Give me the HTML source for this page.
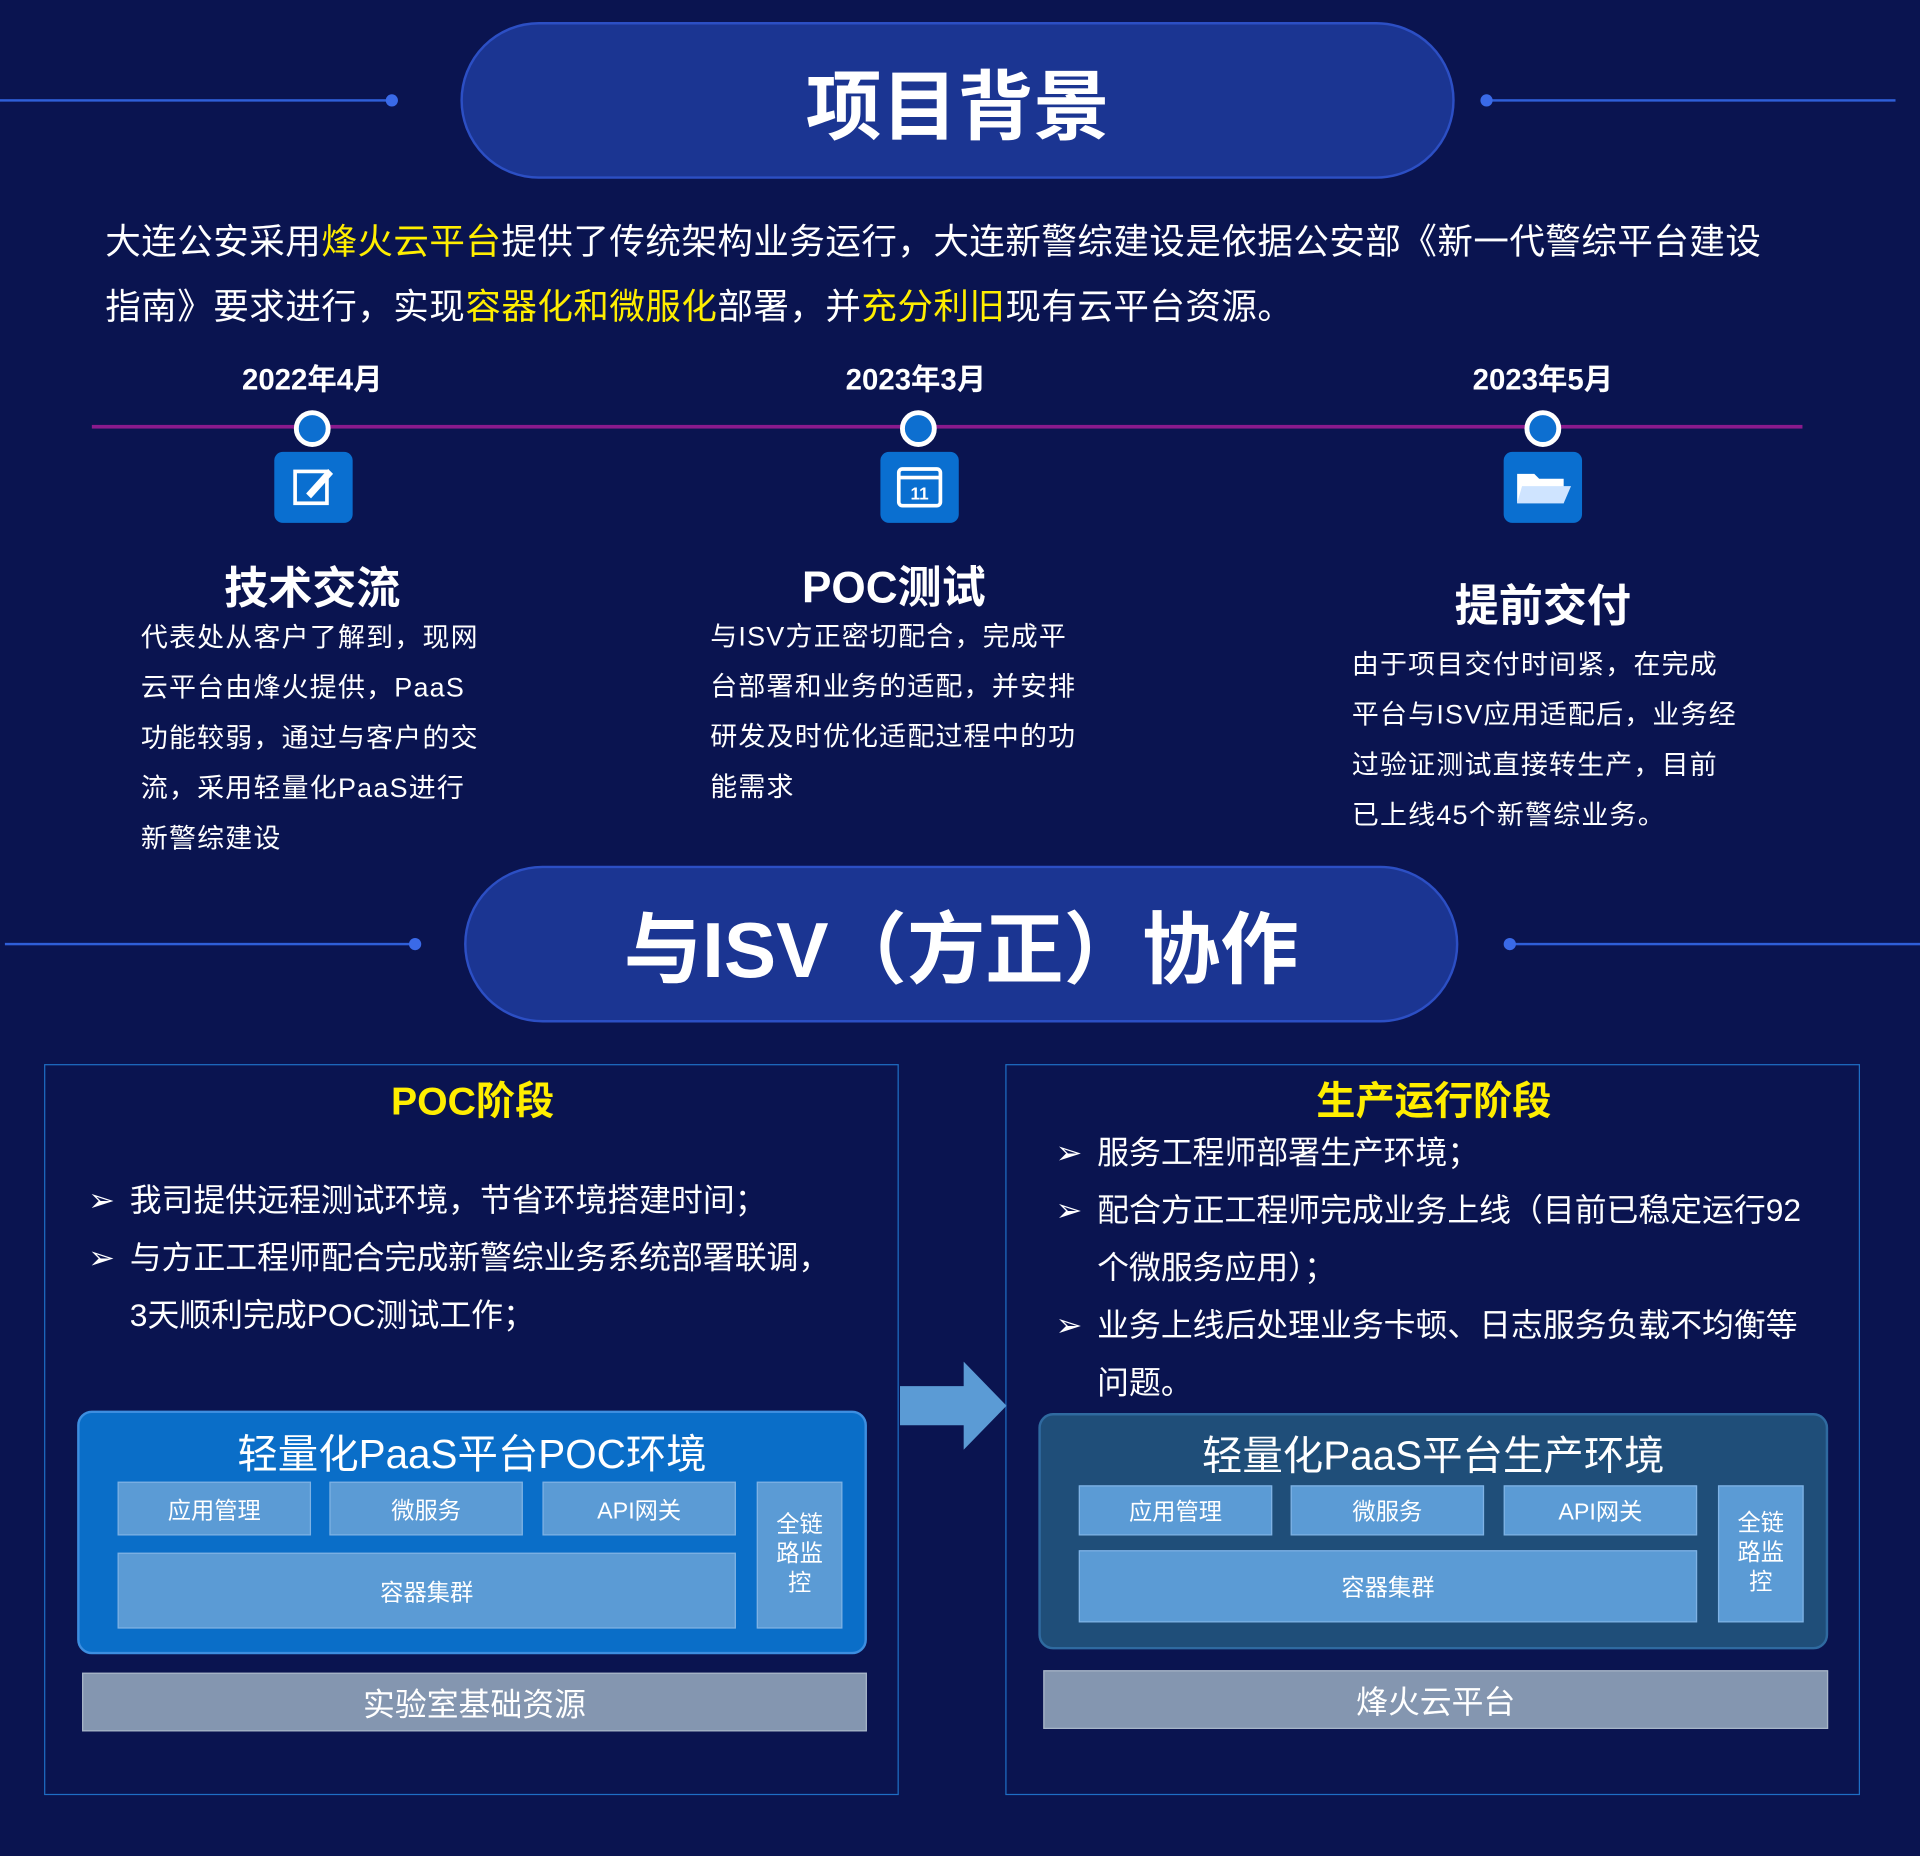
<!DOCTYPE html>
<html><head><meta charset="utf-8">
<style>
html,body{margin:0;padding:0;background:#0a1450;}
body{width:1920px;height:1856px;overflow:hidden;}
#w{position:absolute;left:0;top:0;width:1568px;height:1516px;transform:scale(1.22449);transform-origin:0 0;background:#0a1450;font-family:"Liberation Sans","Noto Sans CJK SC",sans-serif;color:#fff;}
.a{position:absolute;}
.pill{position:absolute;background:#1b3592;border:2px solid #2c4fc4;border-radius:66px;box-sizing:border-box;display:flex;align-items:center;justify-content:center;font-weight:bold;color:#fff;}
.ln{position:absolute;height:2px;background:#2f5fd8;}
.dot{position:absolute;width:10px;height:10px;border-radius:50%;background:#3a6ae8;}
.date{position:absolute;width:200px;text-align:center;font-size:24px;font-weight:bold;}
.circ{position:absolute;width:22px;height:22px;border-radius:50%;background:#0d6fd0;border:4px solid #fff;}
.ico{position:absolute;width:64px;height:58px;border-radius:7px;background:#0a6fd0;}
.h{position:absolute;width:300px;text-align:center;font-size:36px;font-weight:bold;}
.body{position:absolute;font-size:22px;line-height:41px;letter-spacing:1px;}
.box{position:absolute;border:1.5px solid #1e6ec4;box-sizing:border-box;}
.yt{position:absolute;font-size:32px;font-weight:bold;color:#ffee00;text-align:center;}
.bl{position:absolute;font-size:26px;line-height:47px;}
.cell{position:absolute;background:#5b9bd5;color:#fff;font-size:19px;display:flex;align-items:center;justify-content:center;text-align:center;border:1px solid #7fb2e4;box-sizing:border-box;}
.gray{position:absolute;background:#8496b0;font-size:26px;display:flex;align-items:center;justify-content:center;border:1px solid #a8b6c8;box-sizing:border-box;}
.y{color:#ffee00;}
</style></head><body><div id="w">
<div class="ln" style="left:0;top:81px;width:320px"></div><div class="dot" style="left:315px;top:77px"></div>
<div class="ln" style="left:1214px;top:81px;width:334px"></div><div class="dot" style="left:1209px;top:77px"></div>
<div class="pill" style="left:376px;top:18px;width:812px;height:128px;font-size:62px;">项目背景</div>

<div class="a" style="left:86px;top:172px;font-size:29px;line-height:53px;width:1440px;letter-spacing:0.4px;">大连公安采用<span class="y">烽火云平台</span>提供了传统架构业务运行，大连新警综建设是依据公安部《新一代警综平台建设<br>指南》要求进行，实现<span class="y">容器化和微服化</span>部署，并<span class="y">充分利旧</span>现有云平台资源。</div>

<div class="date" style="left:155px;top:290px">2022年4月</div>
<div class="date" style="left:648px;top:290px">2023年3月</div>
<div class="date" style="left:1160px;top:290px">2023年5月</div>
<div class="a" style="left:75px;top:347px;width:1397px;height:3px;background:#8a1a8c"></div>
<div class="circ" style="left:240px;top:335px"></div>
<div class="circ" style="left:735px;top:335px"></div>
<div class="circ" style="left:1245px;top:335px"></div>
<div class="ico" style="left:224px;top:369px"><svg width="64" height="58"><rect x="17" y="16" width="26" height="26" fill="none" stroke="#fff" stroke-width="3"/><path d="M26 34 L44 14 L48 18 L30 38 Z" fill="#fff"/></svg></div>
<div class="ico" style="left:719px;top:369px"><svg width="64" height="58"><rect x="15" y="14" width="34" height="30" rx="3" fill="none" stroke="#fff" stroke-width="3"/><line x1="15" y1="21" x2="49" y2="21" stroke="#fff" stroke-width="3"/><text x="32" y="39" font-size="14" font-weight="bold" fill="#fff" text-anchor="middle" font-family="Liberation Sans">11</text></svg></div>
<div class="ico" style="left:1228px;top:369px"><svg width="64" height="58"><path d="M11 18 H25 L29 22 H49 V42 H11 Z" fill="#fff"/><path d="M15 28 H55 L49 42 H11 Z" fill="#cfe4ff"/></svg></div>

<div class="h" style="left:105px;top:452px">技术交流</div>
<div class="h" style="left:580px;top:451px">POC测试</div>
<div class="h" style="left:1110px;top:466px">提前交付</div>
<div class="body" style="left:115px;top:500px">代表处从客户了解到，现网<br>云平台由烽火提供，PaaS<br>功能较弱，通过与客户的交<br>流，采用轻量化PaaS进行<br>新警综建设</div>
<div class="body" style="left:580px;top:499px">与ISV方正密切配合，完成平<br>台部署和业务的适配，并安排<br>研发及时优化适配过程中的功<br>能需求</div>
<div class="body" style="left:1104px;top:522px">由于项目交付时间紧，在完成<br>平台与ISV应用适配后，业务经<br>过验证测试直接转生产，目前<br>已上线45个新警综业务。</div>

<div class="ln" style="left:4px;top:770px;width:335px"></div><div class="dot" style="left:334px;top:766px"></div>
<div class="ln" style="left:1232px;top:770px;width:336px"></div><div class="dot" style="left:1228px;top:766px"></div>
<div class="pill" style="left:379px;top:707px;width:812px;height:128px;font-size:64px;">与ISV（方正）协作</div>

<div class="box" style="left:36px;top:869px;width:698px;height:597px"></div>
<div class="box" style="left:821px;top:869px;width:698px;height:597px"></div>
<div class="yt" style="left:186px;top:874px;width:400px">POC阶段</div>
<div class="yt" style="left:971px;top:874px;width:400px">生产运行阶段</div>

<div class="bl" style="left:72px;top:957px">➢</div><div class="bl" style="left:106px;top:957px">我司提供远程测试环境，节省环境搭建时间；</div>
<div class="bl" style="left:72px;top:1004px">➢</div><div class="bl" style="left:106px;top:1004px">与方正工程师配合完成新警综业务系统部署联调，<br>3天顺利完成POC测试工作；</div>

<div class="bl" style="left:862px;top:918px">➢</div><div class="bl" style="left:896px;top:918px">服务工程师部署生产环境；</div>
<div class="bl" style="left:862px;top:965px">➢</div><div class="bl" style="left:896px;top:965px">配合方正工程师完成业务上线（目前已稳定运行92<br>个微服务应用）；</div>
<div class="bl" style="left:862px;top:1059px">➢</div><div class="bl" style="left:896px;top:1059px">业务上线后处理业务卡顿、日志服务负载不均衡等<br>问题。</div>

<svg class="a" style="left:735px;top:1112px" width="88" height="72"><path d="M0 20 H52 V0 L87 36 L52 72 V52 H0 Z" fill="#5b9bd5"/></svg>

<div class="a" style="left:63px;top:1152px;width:645px;height:199px;background:#0a6ec8;border:2px solid #3d8ee0;border-radius:12px;box-sizing:border-box"></div>
<div class="a" style="left:63px;top:1161px;width:645px;text-align:center;font-size:33px">轻量化PaaS平台POC环境</div>
<div class="cell" style="left:96px;top:1210px;width:158px;height:44px">应用管理</div>
<div class="cell" style="left:269px;top:1210px;width:158px;height:44px">微服务</div>
<div class="cell" style="left:443px;top:1210px;width:158px;height:44px">API网关</div>
<div class="cell" style="left:96px;top:1268px;width:505px;height:62px">容器集群</div>
<div class="cell" style="left:618px;top:1210px;width:70px;height:120px;line-height:24px">全链<br>路监<br>控</div>
<div class="gray" style="left:67px;top:1366px;width:641px;height:48px">实验室基础资源</div>

<div class="a" style="left:848px;top:1154px;width:645px;height:193px;background:#1f4e79;border:2px solid #2f6aa0;border-radius:12px;box-sizing:border-box"></div>
<div class="a" style="left:848px;top:1162px;width:645px;text-align:center;font-size:33px">轻量化PaaS平台生产环境</div>
<div class="cell" style="left:881px;top:1213px;width:158px;height:41px">应用管理</div>
<div class="cell" style="left:1054px;top:1213px;width:158px;height:41px">微服务</div>
<div class="cell" style="left:1228px;top:1213px;width:158px;height:41px">API网关</div>
<div class="cell" style="left:881px;top:1266px;width:505px;height:59px">容器集群</div>
<div class="cell" style="left:1403px;top:1213px;width:70px;height:112px;line-height:24px">全链<br>路监<br>控</div>
<div class="gray" style="left:852px;top:1364px;width:641px;height:48px">烽火云平台</div>
</div></body></html>
